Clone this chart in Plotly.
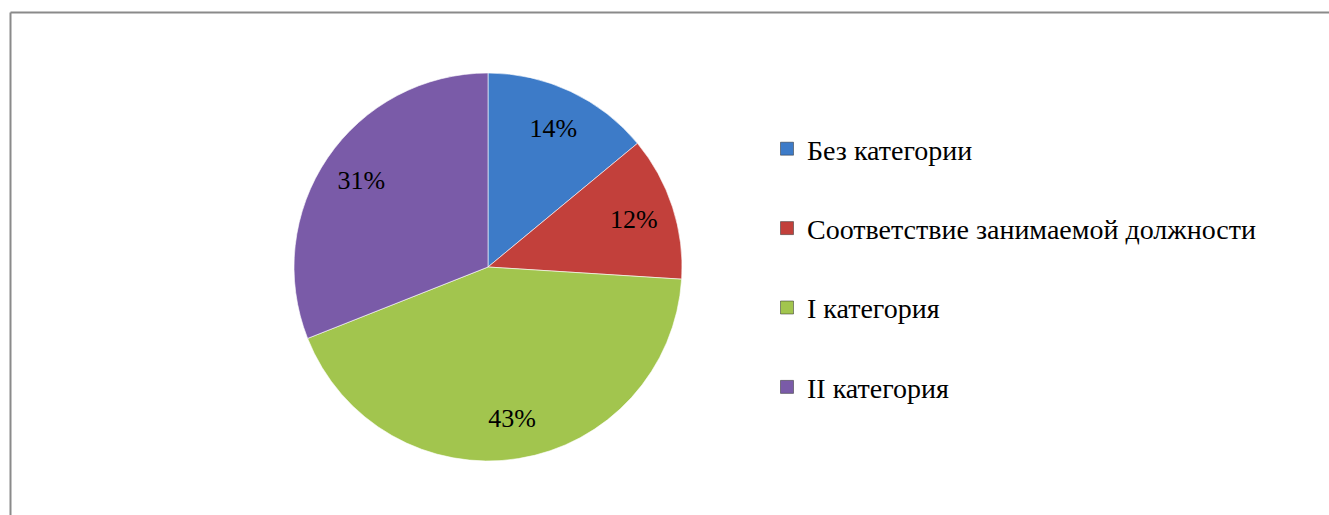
import plotly.graph_objects as go

categories = ["Без категории", "Соответствие занимаемой должности", "I категория", "II категория"]
values = [14, 12, 43, 31]
colors = ["#3D7BC8", "#C2403B", "#A2C54E", "#7A5BA8"]

W, H = 1329, 515
pie_domain = dict(x=[(488 - 194) / W, (488 + 194) / W], y=[1 - 461 / H, 1 - 73 / H])

fig = go.Figure()

# Filled slices
fig.add_trace(go.Pie(
    labels=categories,
    values=values,
    sort=False,
    direction="clockwise",
    rotation=0,
    marker=dict(colors=colors, line=dict(color="rgba(255,255,255,0.6)", width=1)),
    textinfo="none",
    domain=pie_domain,
    showlegend=False,
    hoverinfo="label+percent",
))

# Transparent ring overlay to place percentage labels further out, like the reference
fig.add_trace(go.Pie(
    labels=categories,
    values=values,
    sort=False,
    direction="clockwise",
    rotation=0,
    hole=0.58,
    marker=dict(colors=["rgba(0,0,0,0)"] * len(values), line=dict(width=0)),
    texttemplate="%{percent:.0%}",
    textposition="inside",
    insidetextorientation="horizontal",
    textfont=dict(family="Liberation Serif", size=26, color="black"),
    domain=pie_domain,
    showlegend=False,
    hoverinfo="skip",
))

for i, (cat, col) in enumerate(zip(categories, colors)):
    fig.add_trace(go.Scatter(
        x=[None], y=[None], mode="markers", name=cat,
        marker=dict(symbol="square", size=13, color=col, line=dict(color="#2a2a2a", width=0.5)),
        legendgroup=f"g{i}", showlegend=True,
    ))

fig.update_layout(
    width=W, height=H,
    margin=dict(l=0, r=0, t=0, b=0),
    paper_bgcolor="white",
    plot_bgcolor="white",
    xaxis=dict(visible=False),
    yaxis=dict(visible=False),
    legend=dict(
        x=767 / W, y=1 - 124 / H, xanchor="left", yanchor="top",
        font=dict(family="Liberation Serif", size=28, color="black"),
        tracegroupgap=40,
        itemsizing="trace",
        bgcolor="rgba(0,0,0,0)",
    ),
    shapes=[
        dict(type="line", xref="paper", yref="paper", x0=10.5 / W, x1=1.01, y0=1 - 12.5 / H, y1=1 - 12.5 / H,
             line=dict(color="#8A8A8A", width=2)),
        dict(type="line", xref="paper", yref="paper", x0=10.5 / W, x1=10.5 / W, y0=1 - 12.5 / H, y1=-0.01,
             line=dict(color="#8A8A8A", width=2)),
    ],
)

fig.write_html(
    "out.html",
    config={"displayModeBar": False},
    post_script="document.body.style.margin='0';document.body.style.overflow='hidden';",
)
